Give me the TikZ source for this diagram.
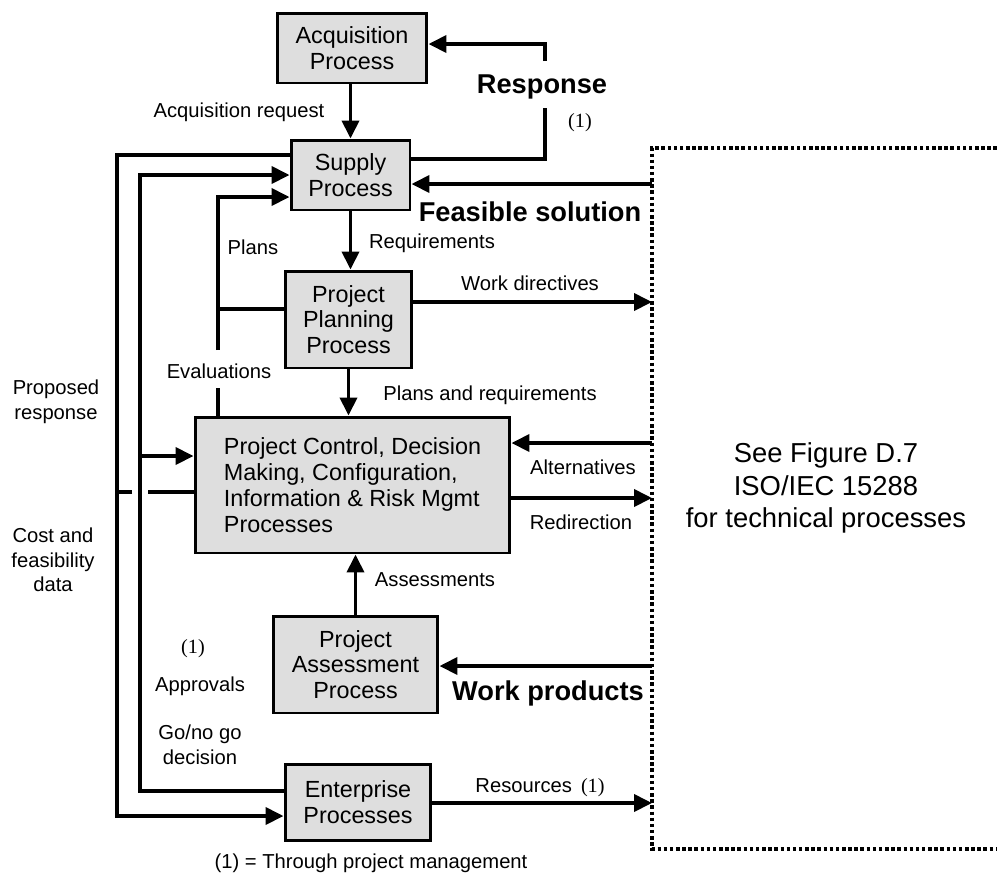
\documentclass[tikz,border=0pt]{standalone}
\usepackage{fontspec}
\setmainfont{Liberation Sans}
\newfontfamily\tnr{Liberation Serif}
\usetikzlibrary{positioning, arrows.meta}
\definecolor{boxgray}{gray}{0.87}

\begin{document}
\begin{tikzpicture}[x=0.02cm, y=-0.02cm, >={Triangle[length=0.36cm, width=0.34cm]},
  line width=2.2pt,
  proc/.style={draw, line width=1.7pt, fill=boxgray, align=center, inner sep=0pt,
    font=\fontsize{13.3}{14.7}\selectfont},
  lbl/.style={align=center, inner sep=1pt, font=\fontsize{11.5}{14}\selectfont},
  blbl/.style={inner sep=1pt, font=\fontsize{15.5}{18}\selectfont\bfseries},
  note/.style={inner sep=1pt, font=\fontsize{11.5}{14}\selectfont\tnr}]

\useasboundingbox (0,0) rectangle (997,873);

\node[proc, minimum width=3cm, minimum height=1.4cm] (acq) at (352,48) {Acquisition\\Process};
\node[proc, minimum width=2.38cm, minimum height=1.4cm] (sup) at (350.5,175) {Supply\\Process};
\node[proc, minimum width=2.54cm, minimum height=1.94cm] (plan) at (348.5,319.5) {Project\\Planning\\Process};
\node[proc, minimum width=6.3cm, minimum height=2.72cm, align=left] (ctrl) at (352.5,485)
  {Project Control, Decision\\Making, Configuration,\\Information \& Risk Mgmt\\Processes};
\node[proc, minimum width=3.3cm, minimum height=1.94cm] (assess) at (355.5,664.5) {Project\\Assessment\\Process};
\node[proc, minimum width=2.92cm, minimum height=1.52cm] (ent) at (358,802) {Enterprise\\Processes};

\coordinate (tl) at (652,148);
\coordinate (bl) at (652,849);
\draw[line width=2pt, dash pattern=on 2pt off 1.5pt] (997,148) -- (tl) -- (bl) -- (997,849);
\node[align=center, font=\fontsize{15.6}{18.4}\selectfont] (tech) at (826,488)
  {See Figure D.7\\ISO/IEC 15288\\for technical processes};

\coordinate (r0) at (545,159);
\coordinate (r1) at (545,108);
\coordinate (r2) at (545,61);
\coordinate (r3) at (545,44);
\coordinate (fs) at (652,184);
\coordinate (wd) at (652,302);
\coordinate (al) at (652,443);
\coordinate (rd) at (652,498);
\coordinate (wp) at (652,666);
\coordinate (rs) at (652,803);
\coordinate (o1) at (117,155);
\coordinate (o2) at (117,816);
\coordinate (i1) at (140,175);
\coordinate (i2) at (140,791);
\coordinate (i3) at (140,456);
\coordinate (e1) at (218,197);
\coordinate (e2) at (218,309);
\coordinate (e3) at (218,350);
\coordinate (e4) at (218,388);
\coordinate (c1) at (148,492);
\coordinate (c2) at (132,492);
\coordinate (c3) at (117,492);

\draw[->] (acq.south -| sup) -- (sup.north);
\draw (r0 -| sup.east) -- (r0) -- (r1);
\draw[->] (r2) -- (r3) -- (r3 -| acq.east);
\draw[->] (fs) -- (fs -| sup.east);
\draw[->] (sup.south) -- (sup.south |- plan.north);
\draw[->] (wd -| plan.east) -- (wd);
\draw[->] (plan.south) -- (plan.south |- ctrl.north);
\draw[->] (al) -- (al -| ctrl.east);
\draw[->] (rd -| ctrl.east) -- (rd);
\draw[->] (assess.north) -- (assess.north |- ctrl.south);
\draw[->] (wp) -- (wp -| assess.east);
\draw[->] (rs -| ent.east) -- (rs);

\draw[->] (o1 -| sup.west) -- (o1) -- (o2) -- (o2 -| ent.west);
\draw[->] (i2 -| ent.west) -- (i2) -- (i1) -- (i1 -| sup.west);
\draw[->] (i3) -- (i3 -| ctrl.west);
\draw (plan.west |- e2) -- (e2);
\draw[->] (e3) -- (e1) -- (e1 -| sup.west);
\draw (e4) -- (e4 |- ctrl.north);
\draw (ctrl.west |- c1) -- (c1);
\draw (c2) -- (c3);

\node[lbl] (acqreq) at (239,112) {Acquisition request};
\node[blbl] (resp) at (542,87) {Response};
\node[note] (n1) at (580,123) {(1)};
\node[blbl] (feas) at (530,212) {Feasible solution};
\node[lbl] (req) at (432,243) {Requirements};
\node[lbl] (plans) at (253,247) {Plans};
\node[lbl] (wdir) at (530,283) {Work directives};
\node[lbl] (evl) at (219,371) {Evaluations};
\node[lbl] (preq) at (490,395) {Plans and requirements};
\node[lbl] (prop) at (56,402) {Proposed\\response};
\node[lbl] (alt) at (583,467) {Alternatives};
\node[lbl] (redir) at (581,522) {Redirection};
\node[lbl] (cost) at (53,560) {Cost and\\feasibility\\data};
\node[lbl] (asm) at (435,580) {Assessments};
\node[note] (n2) at (193,649) {(1)};
\node[lbl] (appr) at (200,686) {Approvals};
\node[blbl] (wprod) at (548,693) {Work products};
\node[lbl] (gono) at (200,745) {Go/no go\\decision};
\node[lbl] (res) at (540,788) {Resources\, {\tnr (1)}};
\node[lbl] (foot) at (371,863) {(1) = Through project management};

\end{tikzpicture}
\end{document}
